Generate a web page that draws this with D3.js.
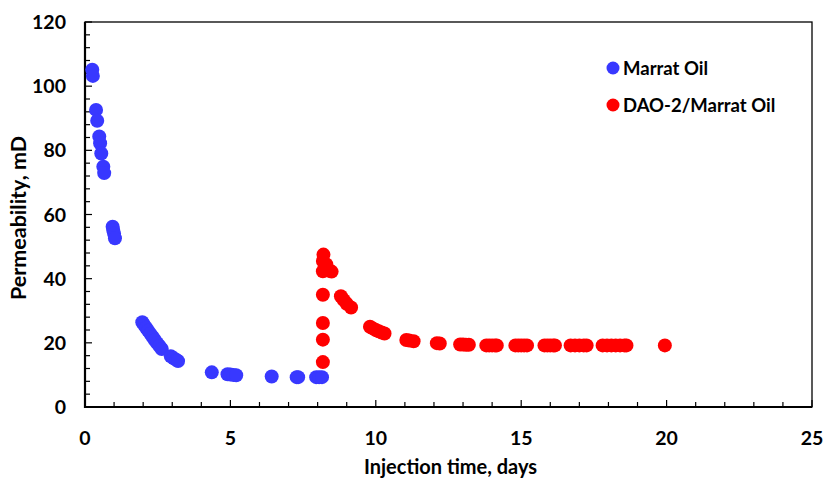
<!DOCTYPE html>
<html><head><meta charset="utf-8">
<script src="https://cdn.jsdelivr.net/npm/d3@7"></script>
<style>
body{margin:0;background:#fff}
text{font-family:Lato,"Open Sans",sans-serif;font-weight:bold;fill:#000}
</style></head>
<body><svg id="chart" width="826" height="484"></svg>
<script>
// Permeability of the core during Marrat oil injection, then DAO-2/Marrat oil
const marratDays = [0.25,0.27,0.38,0.42,0.49,0.52,0.56,0.63,0.66,0.95,0.97,1.0,1.03,
  1.97,2.03,2.1,2.17,2.25,2.33,2.4,2.48,2.56,2.64,2.95,3.05,3.15,3.2,
  4.36,4.9,5.0,5.1,5.2,6.42,7.28,7.33,7.95,8.05,8.15];
const marratPerm = [105.1,103.2,92.6,89.2,84.3,82.2,79,74.9,72.9,56.2,55.2,54,52.6,
  26.4,25.6,24.7,23.8,22.8,21.8,20.9,19.9,19,18.1,15.8,15.2,14.6,14.3,
  10.8,10.2,10.1,10,9.9,9.5,9.3,9.3,9.3,9.3,9.3];

const daoDays = [8.18,8.18,8.18,8.18,8.18,8.18,8.2,8.3,8.38,8.48,
  8.8,8.9,9.0,9.15,9.8,9.9,10.0,10.1,10.2,10.3,11.05,11.15,11.3,12.1,12.2,
  12.9,13.0,13.1,13.2,13.8,13.9,14.0,14.1,14.16,14.8,14.9,15.0,15.1,15.2,
  15.8,15.9,16.0,16.1,16.16,16.7,16.85,17.0,17.15,17.25,17.8,17.95,18.1,18.25,18.4,18.55,18.62,19.94];
const daoPerm = [14,21,26.2,35,42.3,45.5,47.5,44.4,42.5,42.2,
  34.5,33.3,32.2,31,25,24.5,24,23.6,23.2,22.9,20.9,20.7,20.5,19.9,19.8,
  19.5,19.5,19.4,19.4,19.2,19.2,19.2,19.2,19.2,19.2,19.2,19.2,19.2,19.2,
  19.2,19.2,19.2,19.2,19.2,19.2,19.2,19.2,19.2,19.2,19.2,19.2,19.2,19.2,19.2,19.2,19.2,19.2];

const xTicks = [0,5,10,15,20,25];
const yTicks = [0,20,40,60,80,100,120];
const seriesNames = ["Marrat Oil","DAO-2/Marrat Oil"];
const seriesColors = ["#3838ff","#ff0000"];

const svg = d3.select("#chart");
const m = {left:85, right:14, top:22, bottom:77};
const W = 826, H = 484;
const x = d3.scaleLinear().domain([0,25]).range([m.left, W - m.right]);
const y = d3.scaleLinear().domain([0,120]).range([H - m.bottom, m.top]);

// minor ticks pointing inward
const g = svg.append("g");
g.selectAll(".xm").data(d3.range(0,26,1)).enter().append("line")
  .attr("x1",d=>x(d)).attr("x2",d=>x(d))
  .attr("y1",y(0)).attr("y2",d=>y(0)-(d%5===0?7:5))
  .attr("stroke","#000").attr("stroke-width",1.2);
g.selectAll(".ym").data(d3.range(0,121,4)).enter().append("line")
  .attr("y1",d=>y(d)).attr("y2",d=>y(d))
  .attr("x1",x(0)).attr("x2",d=>x(0)+(d%20===0?7:5))
  .attr("stroke","#000").attr("stroke-width",1.2);

// frame
svg.append("rect").attr("x",x(0)).attr("y",y(120))
  .attr("width",x(25)-x(0)).attr("height",y(0)-y(120))
  .attr("fill","none").attr("stroke","#000").attr("stroke-width",1.3);
svg.append("line").attr("x1",x(0)).attr("x2",x(25)).attr("y1",y(0)).attr("y2",y(0))
  .attr("stroke","#000").attr("stroke-width",2.2);
svg.append("line").attr("x1",x(0)).attr("x2",x(0)).attr("y1",y(0)+1).attr("y2",y(120))
  .attr("stroke","#000").attr("stroke-width",2.2);

// tick labels
svg.selectAll(".xl").data(xTicks).enter().append("text")
  .attr("x",d=>x(d)).attr("y",y(0)+38).attr("text-anchor","middle")
  .style("font-size","19.5px").text(d=>d);
svg.selectAll(".yl").data(yTicks).enter().append("text")
  .attr("x",x(0)-19).attr("y",d=>y(d)+7).attr("text-anchor","end")
  .style("font-size","19.5px").text(d=>d);

// axis titles
svg.append("text").attr("x",(x(0)+x(25))/2 + 2).attr("y",474).attr("text-anchor","middle")
  .style("font-size","20px").text("Injection time, days");
svg.append("text").attr("transform","translate(26,218) rotate(-90)")
  .attr("text-anchor","middle").style("font-size","21.5px").text("Permeability, mD");

// points
const r = 7;
svg.append("g").selectAll("circle").data(d3.zip(marratDays, marratPerm)).enter().append("circle")
  .attr("cx",d=>x(d[0])).attr("cy",d=>y(d[1])).attr("r",r).attr("fill",seriesColors[0]);
svg.append("g").selectAll("circle").data(d3.zip(daoDays, daoPerm)).enter().append("circle")
  .attr("cx",d=>x(d[0])).attr("cy",d=>y(d[1])).attr("r",r).attr("fill",seriesColors[1]);

// legend
const lg = svg.append("g");
seriesNames.forEach((name,i)=>{
  const ly = 68 + i*37;
  lg.append("circle").attr("cx",613).attr("cy",ly).attr("r",6.5).attr("fill",seriesColors[i]);
  lg.append("text").attr("x",623).attr("y",ly+6.5).style("font-size","18.5px").text(name);
});
</script></body></html>
